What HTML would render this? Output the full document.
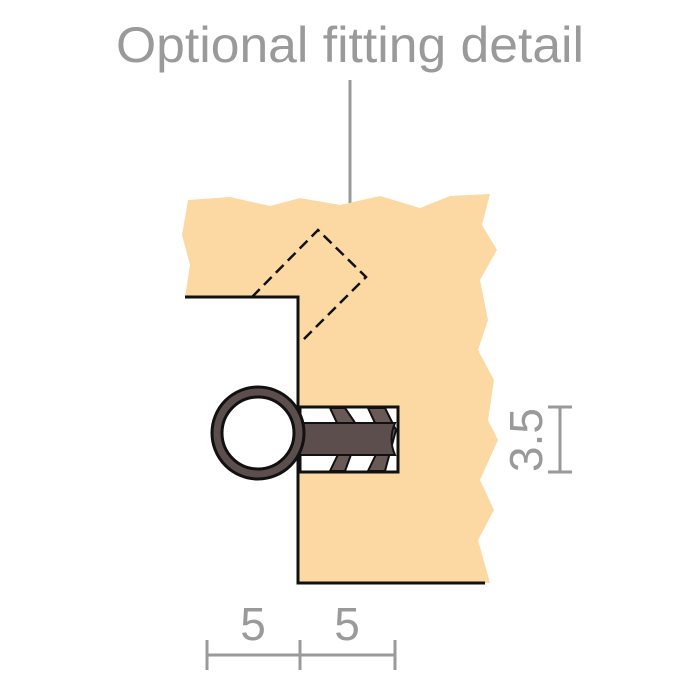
<!DOCTYPE html>
<html><head><style>body{margin:0;background:#fff}svg{display:block}</style></head><body>
<svg width="700" height="700" viewBox="0 0 700 700" xmlns="http://www.w3.org/2000/svg">
<text x="350" y="62" text-anchor="middle" font-family="Liberation Sans, sans-serif" font-size="50" fill="#9a9a9a" textLength="468" lengthAdjust="spacingAndGlyphs">Optional fitting detail</text>
<line x1="350" y1="80" x2="350" y2="245" stroke="#9a9a9a" stroke-width="3"/>
<path d="M188,200 L230,197 L270,206 L300,198 L340,205 L380,196 L420,208 L450,196 L490,194 L482,225 L497,250 L480,280 L488,320 L478,350 L494,380 L488,420 L498,440 L480,480 L494,510 L478,540 L490,583 L298,583 L298,297 L185,297 L190,265 L182,235 Z" fill="#fcd9a2"/>
<polyline points="185,297 298,297 298,583 485,583" fill="none" stroke="#111" stroke-width="3"/>
<polyline points="252,297 318,230 366,277 300,343" fill="none" stroke="#111" stroke-width="2.5" stroke-dasharray="11,6"/>
<rect x="300" y="407" width="98" height="65" fill="#fff" stroke="#111" stroke-width="3"/>
<path d="M330,408 L345,408 L360,430 L345,471 L330,471 L345,440 Z" fill="#6a5a57" stroke="#111" stroke-width="2"/>
<path d="M368,408 L385,408 L396,430 L385,471 L368,471 L383,440 Z" fill="#6a5a57" stroke="#111" stroke-width="2"/>
<path d="M300,423 L395,423 Q388,439 395,455 L300,455 Z" fill="#5c4e4c" stroke="#111" stroke-width="2"/>
<circle cx="258" cy="433" r="46" fill="#5c4e4c" stroke="#111" stroke-width="3"/>
<circle cx="258" cy="433" r="36" fill="#fff" stroke="#111" stroke-width="3"/>
<line x1="560" y1="407" x2="560" y2="472" stroke="#9a9a9a" stroke-width="3"/>
<line x1="548" y1="407" x2="572" y2="407" stroke="#9a9a9a" stroke-width="3"/>
<line x1="548" y1="472" x2="572" y2="472" stroke="#9a9a9a" stroke-width="3"/>
<text transform="translate(542,440) rotate(-90)" text-anchor="middle" font-family="Liberation Sans, sans-serif" font-size="46" fill="#9a9a9a">3.5</text>
<line x1="207" y1="655" x2="395" y2="655" stroke="#9a9a9a" stroke-width="3"/>
<line x1="207" y1="640" x2="207" y2="670" stroke="#9a9a9a" stroke-width="3"/>
<line x1="300" y1="640" x2="300" y2="670" stroke="#9a9a9a" stroke-width="3"/>
<line x1="395" y1="640" x2="395" y2="670" stroke="#9a9a9a" stroke-width="3"/>
<text x="253" y="640" text-anchor="middle" font-family="Liberation Sans, sans-serif" font-size="46" fill="#9a9a9a">5</text>
<text x="347" y="640" text-anchor="middle" font-family="Liberation Sans, sans-serif" font-size="46" fill="#9a9a9a">5</text>
</svg>
</body></html>
